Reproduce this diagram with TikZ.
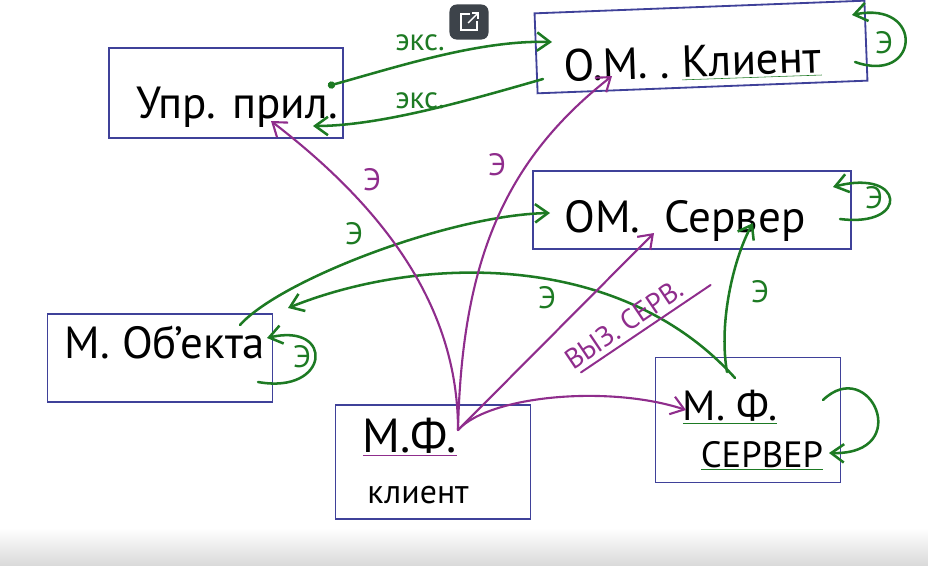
\documentclass[tikz,border=0pt]{standalone}
\usepackage{fontspec}
\setmainfont{PT Sans}
\usetikzlibrary{arrows.meta}
\definecolor{penblue}{HTML}{3F4199}
\definecolor{pengreen}{HTML}{1D7A23}
\definecolor{penpurple}{HTML}{8F2D8C}
\definecolor{iconbg}{HTML}{3D434A}
\newcommand{\penunder}[2]{{\color{#1}$\underline{\hbox{\color{black}#2}}$}}
\tikzset{
  modbox/.style={rectangle, draw=penblue, line width=1.3pt, inner sep=0pt},
  modtext/.style={anchor=base, inner sep=0pt, font=\fontsize{32}{34}\selectfont},
  expflow/.style={draw=pengreen, line width=1.8pt, line cap=round, -{Straight Barb[length=3.2mm,width=4.6mm]}},
  callflow/.style={draw=penpurple, line width=1.5pt, line cap=round, -{Straight Barb[length=3.2mm,width=4.6mm]}},
  elabel/.style={font=\fontsize{22}{24}\selectfont, text=pengreen, inner sep=0pt},
  clabel/.style={font=\fontsize{22}{24}\selectfont, text=penpurple, inner sep=0pt},
}
\begin{document}
\begin{tikzpicture}[x=0.025cm, y=-0.025cm]
  \useasboundingbox (0,0) rectangle (928,566);
  \shade[top color=white, bottom color=black!15] (0,528) rectangle (928,566);

  % modules
  \node[modbox, minimum width=5.85cm, minimum height=2.25cm] (upr) at (226,93) {};
  \node[modbox, minimum width=8.25cm, minimum height=2cm, rotate=2.2] (omk) at (701,47) {};
  \node[modbox, minimum width=7.95cm, minimum height=1.95cm] (oms) at (692,210) {};
  \node[modbox, minimum width=5.625cm, minimum height=2.2cm] (mobj) at (160,358) {};
  \node[modbox, minimum width=4.875cm, minimum height=2.85cm] (mfk) at (433,462) {};
  \node[modbox, minimum width=4.625cm, minimum height=3.125cm] (mfs) at (748,420) {};

  \node[modtext] (upr-t) at (237,118) {Упр. прил.};
  \node[modtext, rotate=2] (omk-t) at (693,77) {О.М.\ .\ \penunder{pengreen}{Клиент}};
  \node[modtext] (oms-t) at (685,232) {ОМ.\ \ Сервер};
  \node[modtext] (mobj-t) at (165,358) {М. Об'екта};
  \node[modtext, font=\fontsize{34}{36}\selectfont] (mfk-t) at (410,452) {\penunder{penpurple}{М.Ф.}};
  \node[modtext, font=\fontsize{24}{26}\selectfont] (mfk-s) at (418,503) {клиент};
  \node[modtext, font=\fontsize{30}{32}\selectfont] (mfs-t) at (730,420) {\penunder{pengreen}{М. Ф.}};
  \node[modtext, font=\fontsize{26}{28}\selectfont] (mfs-s) at (762,467) {\penunder{pengreen}{СЕРВЕР}};

  \node[rounded corners=5pt, fill=iconbg, minimum width=0.975cm, minimum height=0.875cm] (expand) at (469,22) {};
  \draw[white, line width=1pt] ([shift={(1,-8)}]expand.center) -- ([shift={(-8,-8)}]expand.center) -- ([shift={(-8,8)}]expand.center) -- ([shift={(8,8)}]expand.center) -- ([shift={(8,-1)}]expand.center);
  \draw[white, line width=1pt] ([shift={(-1,1)}]expand.center) -- ([shift={(9,-9)}]expand.center);
  \draw[white, line width=1pt] ([shift={(3,-9)}]expand.center) -- ([shift={(9,-9)}]expand.center) -- ([shift={(9,-3)}]expand.center);

  % exports
  \draw[expflow, {Circle[length=1.8mm]}-{Straight Barb[length=3.2mm,width=4.6mm]}] ([shift={(102,-7)}]upr.center) .. controls +(72,-20) and +(-72,-2) .. ([shift={(-149,-5)}]omk.center)
    node[elabel] (eks1) at (420,43) {экс.};
  \draw[expflow] ([shift={(-158,32)}]omk.center) .. controls +(-73,21) and +(67,0) .. ([shift={(87,33)}]upr.center)
    node[elabel] (eks2) at (420,101) {экс.};
  \draw[expflow] ([shift={(154,15)}]omk.center) .. controls +(65,23) and +(73,-15) .. ([shift={(151,-32)}]omk.center)
    node[elabel] (e1) at (884,43) {Э};
  \draw[expflow] ([shift={(148,9)}]oms.center) .. controls +(70,9) and +(72,-19) .. ([shift={(141,-23)}]oms.center)
    node[elabel] (e2) at (874,198) {Э};
  \draw[expflow] ([shift={(98,24)}]mobj.center) .. controls +(72,13) and +(68,-16) .. ([shift={(107,-20)}]mobj.center)
    node[elabel] (e3) at (302,357) {Э};
  \draw[expflow] ([shift={(75,-20)}]mfs.center) .. controls +(47,-45) and +(86,2) .. ([shift={(81,33)}]mfs.center);
  \draw[expflow] ([shift={(80,-33)}]mobj.center) .. controls +(40,-45) and +(-100,2) .. ([shift={(-142,3)}]oms.center)
    node[elabel] (e4) at (354,234) {Э};
  \draw[expflow] ([shift={(-13,-42)}]mfs.center) .. controls +(-115,-128) and +(132,-53) .. ([shift={(128,-50)}]mobj.center)
    node[elabel] (e5) at (547,298) {Э};
  \draw[expflow] ([shift={(-21,-48)}]mfs.center) .. controls +(-9,-52) and +(-18,32) .. ([shift={(61,13)}]oms.center)
    node[elabel] (e6) at (760,292) {Э};

  % calls
  \draw[callflow] ([shift={(25,-32)}]mfk.center) .. controls +(0,-110) and +(129,99) .. ([shift={(45,28)}]upr.center)
    node[clabel] (c1) at (372,180) {Э};
  \draw[callflow] ([shift={(25,-32)}]mfk.center) .. controls +(4,-170) and +(-107,84) .. ([shift={(-89,29)}]omk.center)
    node[clabel] (c2) at (497,165) {Э};
  \draw[callflow] ([shift={(25,-32)}]mfk.center) -- ([shift={(-38,23)}]oms.center);
  \draw[callflow] ([shift={(25,-32)}]mfk.center) .. controls +(32,-35) and +(-76,-25) .. ([shift={(-62,-10)}]mfs.center);
  \node[clabel, font=\fontsize{20}{22}\selectfont, rotate=34, inner sep=4pt] (vyz) at (624,324) {ВЫЗ. СЕРВ.};
  \draw[penpurple, line width=1.4pt, line cap=round, shorten <=8pt, shorten >=-14pt] (vyz.south west) -- (vyz.south east);
\end{tikzpicture}
\end{document}
